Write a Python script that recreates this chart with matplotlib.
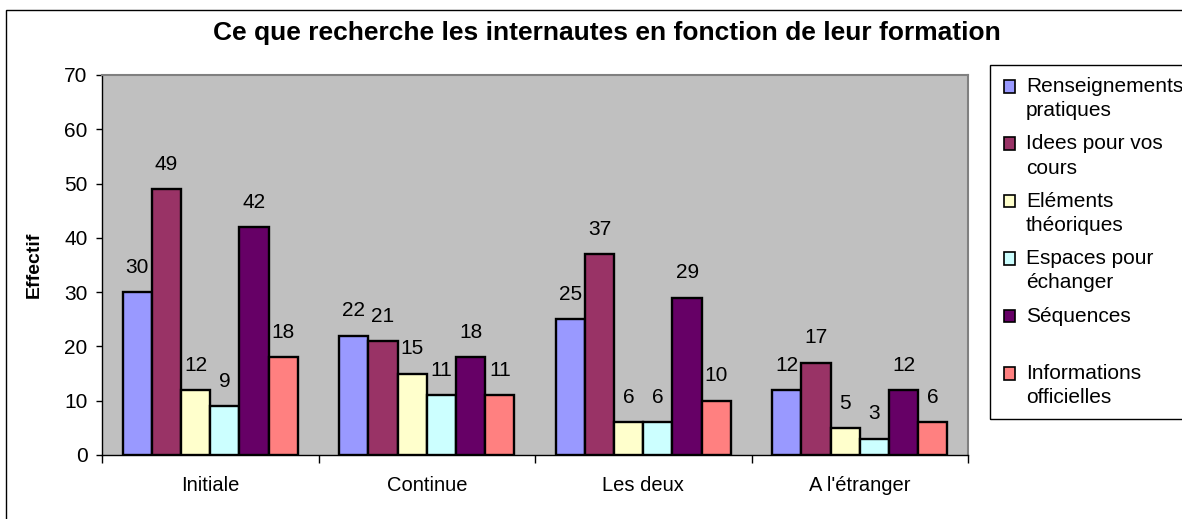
import matplotlib
matplotlib.use("Agg")
import matplotlib.pyplot as plt
from matplotlib.patches import Rectangle
from matplotlib.legend_handler import HandlerBase
import numpy as np

plt.rcParams['font.family'] = ['Liberation Sans', 'DejaVu Sans']

categories = ["Initiale", "Continue", "Les deux", "A l'étranger"]
series_names = ["Renseignements\npratiques", "Idees pour vos\ncours", "Eléments\nthéoriques",
                "Espaces pour\néchanger", "Séquences\n ", "Informations\nofficielles"]
renseignements = [30, 22, 25, 12]
idees = [49, 21, 37, 17]
elements = [12, 15, 6, 5]
espaces = [9, 11, 6, 3]
sequences = [42, 18, 29, 12]
informations = [18, 11, 10, 6]
series_values = [renseignements, idees, elements, espaces, sequences, informations]
colors = ["#9999FF", "#993366", "#FFFFCC", "#CCFFFF", "#660066", "#FF8080"]
yticks = [0, 10, 20, 30, 40, 50, 60, 70]


class TopSquare(HandlerBase):
    # legend square sits on the first line of a two-line label
    def __init__(self, shift, **kw):
        super().__init__(**kw)
        self.shift = shift

    def create_artists(self, legend, orig_handle, xdescent, ydescent, width, height, fontsize, trans):
        fc = orig_handle.patches[0].get_facecolor()
        p = Rectangle((-xdescent, -ydescent + self.shift), width, height,
                      facecolor=fc, edgecolor="black", linewidth=1.2, transform=trans)
        return [p]


W, H = 1182, 519
fig = plt.figure(figsize=(W / 100, H / 100), dpi=100)
ax = fig.add_axes([102 / W, 1 - 455 / H, 866 / W, 380 / H])
ax.set_facecolor("#C0C0C0")

x = np.arange(len(categories))
bw = 0.135
containers = []
for i, (vals, col) in enumerate(zip(series_values, colors)):
    bars = ax.bar(x + (i - 2.5) * bw, vals, bw, color=col, edgecolor="black",
                  linewidth=1.7, label=series_names[i], zorder=3)
    ax.bar_label(bars, padding=11, fontsize=15)
    containers.append(bars)

ax.set_xlim(-0.5, len(categories) - 0.5)
ax.set_ylim(0, 70)
ax.set_yticks(yticks)
ax.tick_params(axis="y", labelsize=15, length=4.5, width=1, direction="out", pad=6)
ax.set_xticks(np.arange(len(categories) + 1) - 0.5)
ax.set_xticklabels([])
ax.set_xticks(x, minor=True)
ax.set_xticklabels(categories, minor=True, fontsize=14.5)
ax.tick_params(axis="x", which="major", length=6, width=1, direction="out")
ax.tick_params(axis="x", which="minor", length=0, pad=15)

for s in ["top", "right"]:
    ax.spines[s].set_color("#808080")
    ax.spines[s].set_linewidth(1.5)
for s in ["left", "bottom"]:
    ax.spines[s].set_color("black")
    ax.spines[s].set_linewidth(1)

ax.set_ylabel("Effectif", fontsize=14, fontweight="bold", labelpad=15)

fig.text(607 / W, 1 - 33 / H, "Ce que recherche les internautes en fonction de leur formation",
         ha="center", va="center", fontsize=19, fontweight="bold")

# outer chart frame
fig.patches.append(Rectangle((6 / W, -0.1), 1.2, 1.1 - 10 / H, transform=fig.transFigure,
                             fill=False, edgecolor="black", linewidth=1))
# legend frame
fig.patches.append(Rectangle((990 / W, 1 - 419 / H), 0.3, (419 - 65) / H, transform=fig.transFigure,
                             fill=False, edgecolor="black", linewidth=1))

leg = fig.legend(containers, series_names, loc="upper left", bbox_to_anchor=(1004 / W, 1 - 77 / H),
                 frameon=False, fontsize=15, handlelength=0.55, handleheight=0.55,
                 handletextpad=0.5, labelspacing=0.68, borderpad=0, borderaxespad=0,
                 handler_map={c: TopSquare(9) for c in containers})
for t in leg.get_texts():
    t.set_linespacing(1.35)

fig.savefig("out.png", dpi=100)
